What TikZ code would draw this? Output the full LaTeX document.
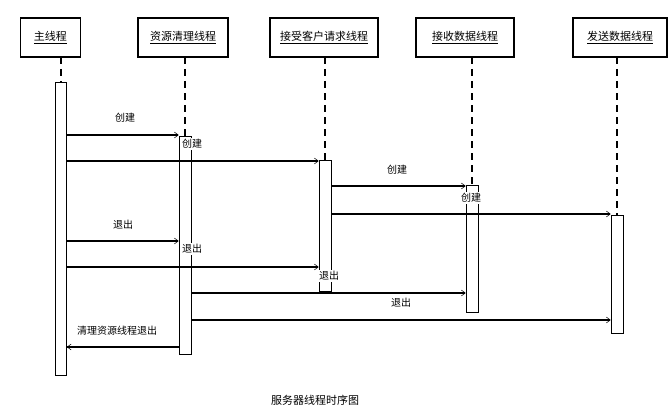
\documentclass[tikz,border=0pt]{standalone}
\usepackage{fontspec}
\setmainfont{Noto Sans CJK SC}
\usetikzlibrary{arrows.meta}
\tikzset{
  head/.style={draw, line width=1.2pt, minimum height=39pt, font=\fontsize{11}{13}\selectfont},
  life/.style={line width=1.2pt, dash pattern=on 7pt off 5pt},
  bar/.style={draw, line width=0.6pt, fill=white},
  msg/.style={line width=1.2pt, -{Straight Barb[length=4pt,width=6pt,line width=0.5pt]}},
  lab/.style={font=\fontsize{10}{12}\selectfont, inner sep=1pt}
}
\begin{document}
\begin{tikzpicture}[x=1pt,y=-1pt]
\useasboundingbox (0,0) rectangle (672,412);
% heads
\node[head, minimum width=60pt] (h1) at (50.5,37.5) {\underline{主线程}};
\node[head, minimum width=90pt] (h2) at (183,37.5) {\underline{资源清理线程}};
\node[head, minimum width=108pt] (h3) at (324,37.5) {\underline{接受客户请求线程}};
\node[head, minimum width=98pt] (h4) at (465,37.5) {\underline{接收数据线程}};
\node[head, minimum width=94pt] (h5) at (620,37.5) {\underline{发送数据线程}};
% lifelines
\coordinate (l1) at (61,82);
\coordinate (l2) at (185,136);
\coordinate (l3) at (325,160);
\coordinate (l4) at (472,185);
\coordinate (l5) at (617,215);
\draw[life] (61,57) -- (l1);
\draw[life] (185,57) -- (l2);
\draw[life] (325,57) -- (l3);
\draw[life] (472,57) -- (l4);
\draw[life] (617,57) -- (l5);
% activation bars
\node[bar, minimum width=11pt, minimum height=293pt, anchor=north, inner sep=0] (a1) at (l1) {};
\node[bar, minimum width=12pt, minimum height=218pt, anchor=north, inner sep=0] (a2) at (l2) {};
\node[bar, minimum width=12pt, minimum height=131pt, anchor=north, inner sep=0] (a3) at (l3) {};
\node[bar, minimum width=12pt, minimum height=127pt, anchor=north, inner sep=0] (a4) at (l4) {};
\node[bar, minimum width=12pt, minimum height=118pt, anchor=north, inner sep=0] (a5) at (l5) {};
% messages
\draw[msg] (a1.east |- 0,135) -- (a2.west |- 0,135);
\draw[msg] (a1.east |- 0,161) -- (a3.west |- 0,161);
\draw[msg] (a3.east |- 0,186) -- (a4.west |- 0,186);
\draw[msg] (a3.east |- 0,214) -- (a5.west |- 0,214);
\draw[msg] (a1.east |- 0,241) -- (a2.west |- 0,241);
\draw[msg] (a1.east |- 0,267) -- (a3.west |- 0,267);
\draw[msg] (a2.east |- 0,293) -- (a4.west |- 0,293);
\draw[msg] (a2.east |- 0,320) -- (a5.west |- 0,320);
\draw[msg] (a2.west |- 0,347) -- (a1.east |- 0,347);
% labels
\node[lab] (t1) at (125,118) {创建};
\node[lab, fill=white] (t2) at (192,144) {创建};
\node[lab] (t3) at (397,170) {创建};
\node[lab, fill=white] (t4) at (471,198) {创建};
\node[lab] (t5) at (123,225) {退出};
\node[lab, fill=white] (t6) at (192,249) {退出};
\node[lab, fill=white] (t7) at (329,276) {退出};
\node[lab] (t8) at (401,303) {退出};
\node[lab] (t9) at (117,331) {清理资源线程退出};
\node[lab, font=\fontsize{11}{13}\selectfont] (cap) at (315,400) {服务器线程时序图};
\end{tikzpicture}
\end{document}
